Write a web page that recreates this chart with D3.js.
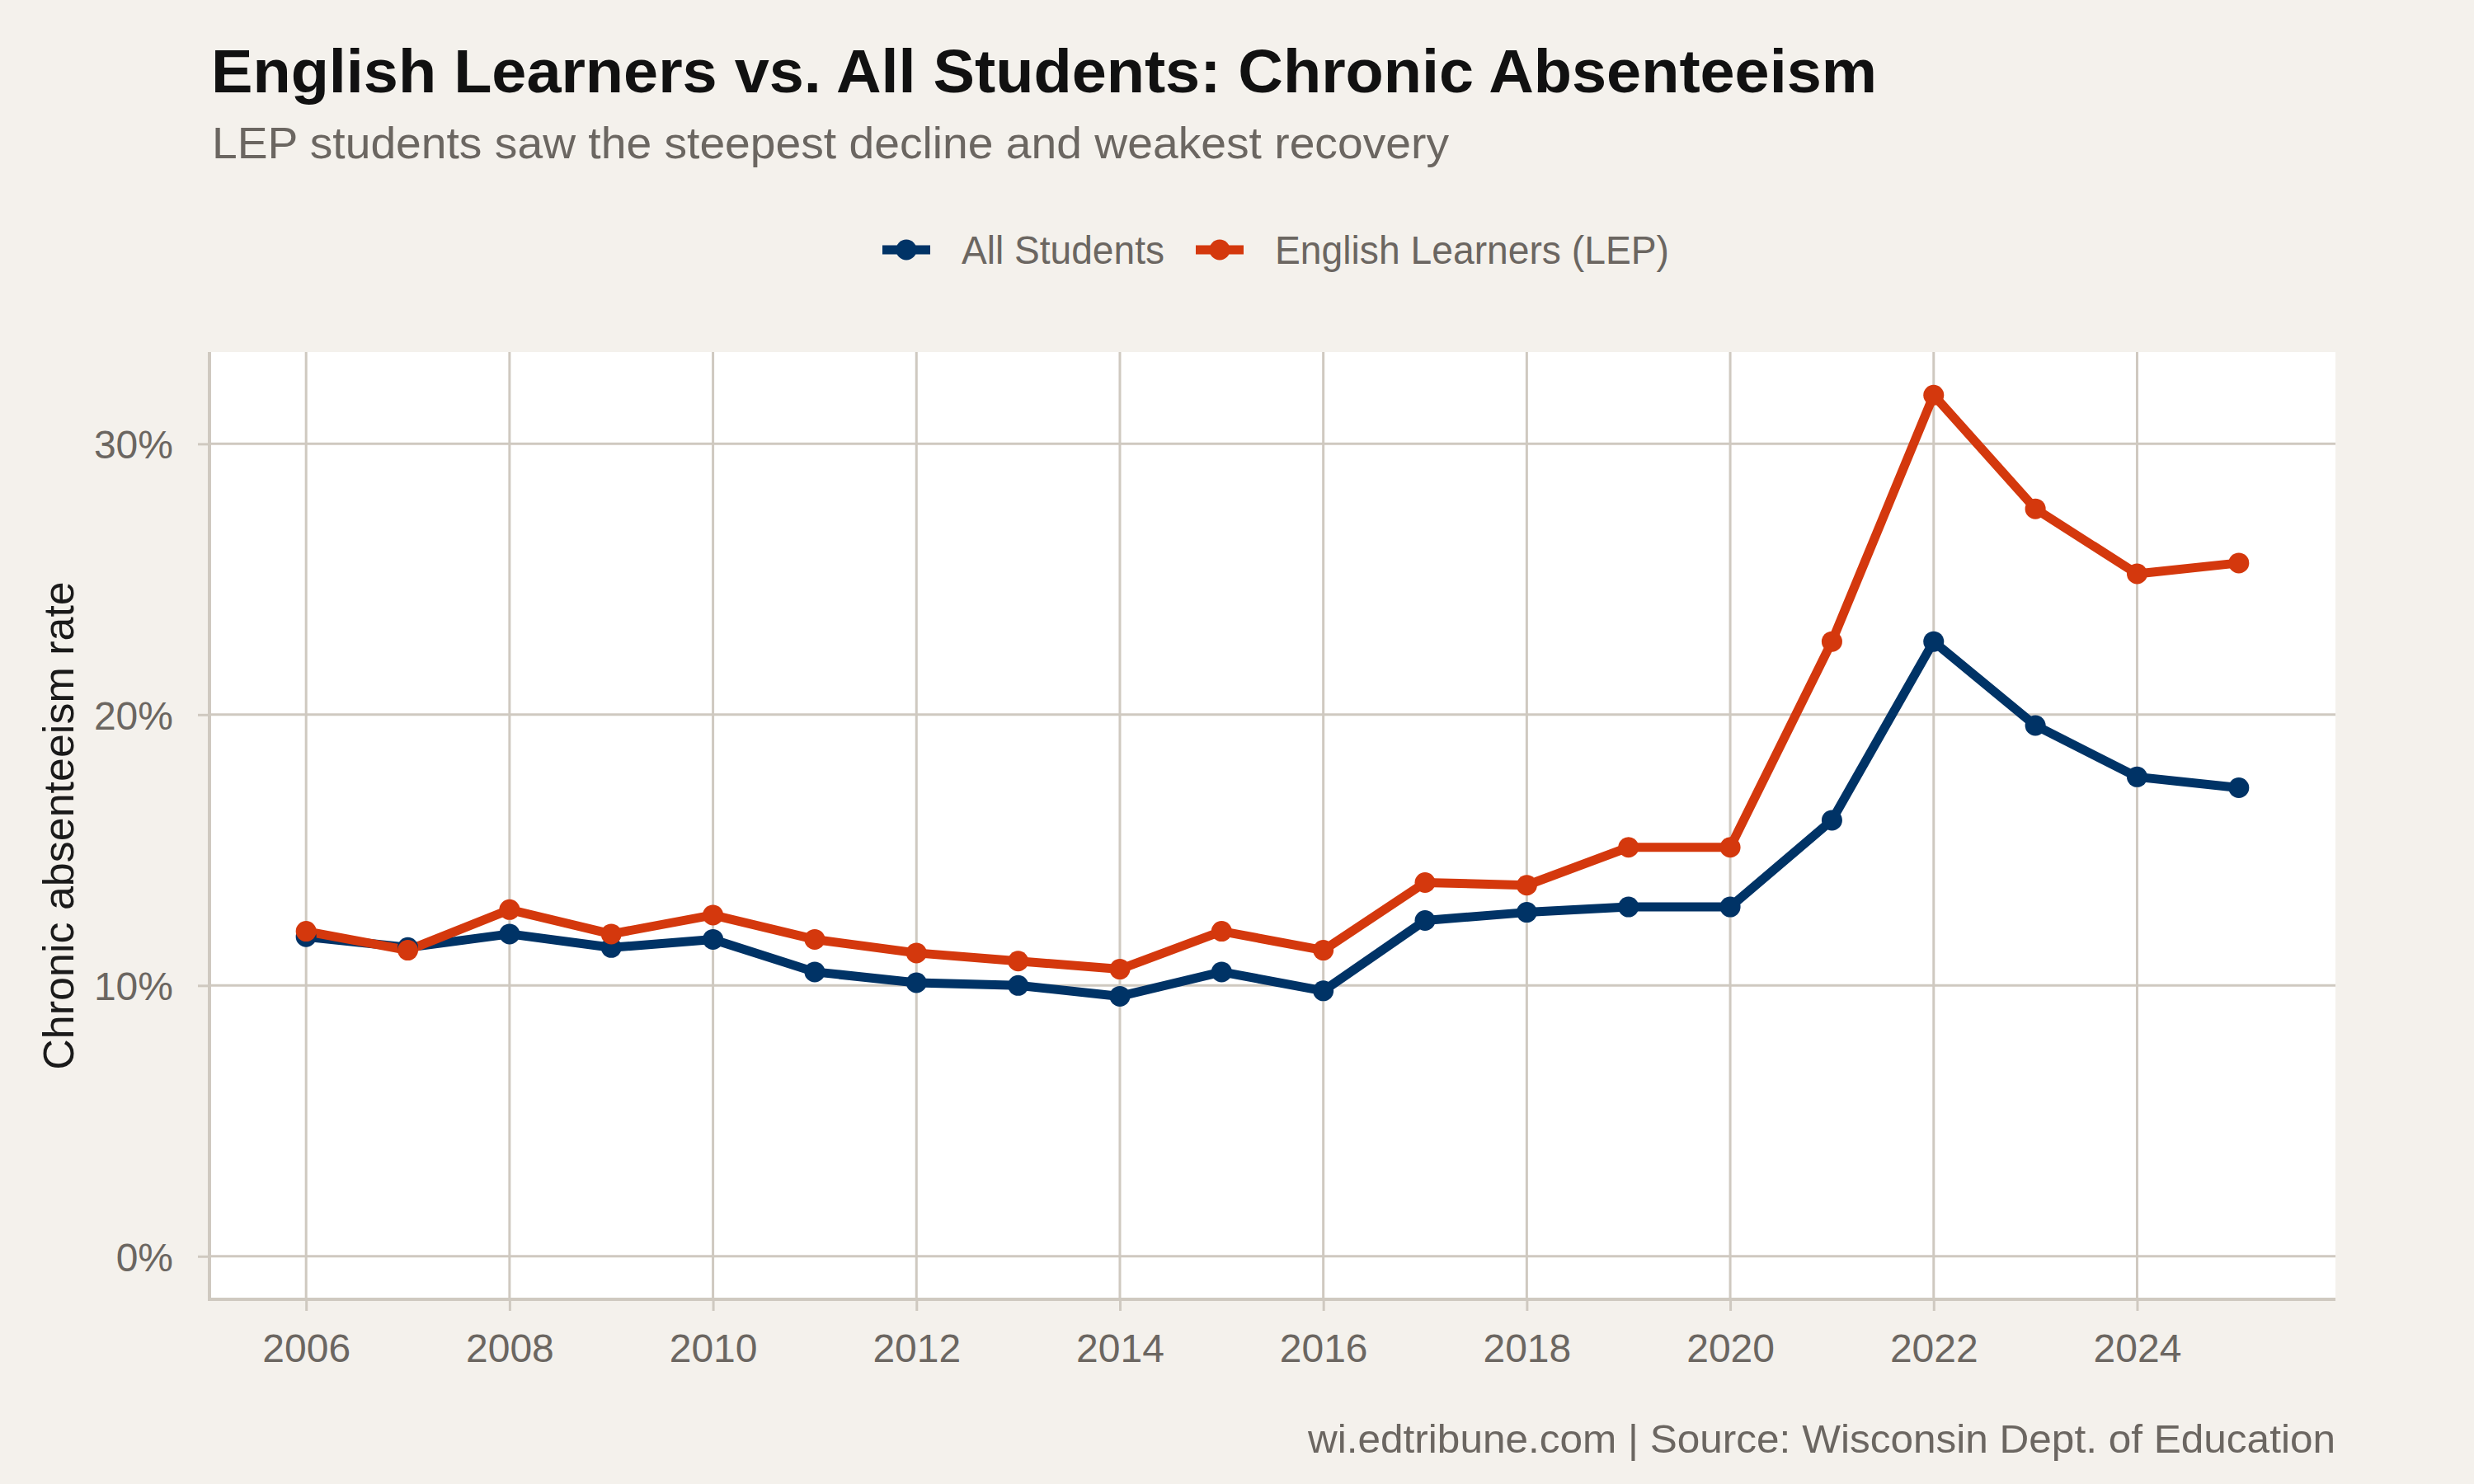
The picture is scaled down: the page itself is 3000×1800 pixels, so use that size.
<!DOCTYPE html>
<html>
<head>
<meta charset="utf-8">
<script src="https://cdn.jsdelivr.net/npm/d3@7"></script>
<style>
  html, body { margin: 0; padding: 0; background: #f4f1ec; }
  svg { display: block; }
  text { font-family: "Liberation Sans", Arial, Helvetica, sans-serif; }
</style>
</head>
<body>
<svg id="chart" width="3000" height="1800"></svg>
<script>
// ---- Data ----
const years = [2006, 2007, 2008, 2009, 2010, 2011, 2012, 2013, 2014, 2015,
               2016, 2017, 2018, 2019, 2020, 2021, 2022, 2023, 2024, 2025];
const allStudents = [11.8, 11.4, 11.9, 11.4, 11.7, 10.5, 10.1, 10.0, 9.6, 10.5,
                     9.8, 12.4, 12.7, 12.9, 12.9, 16.1, 22.7, 19.6, 17.7, 17.3];
const englishLearners = [12.0, 11.3, 12.8, 11.9, 12.6, 11.7, 11.2, 10.9, 10.6, 12.0,
                         11.3, 13.8, 13.7, 15.1, 15.1, 22.7, 31.8, 27.6, 25.2, 25.6];
const seriesNames = ["All Students", "English Learners (LEP)"];
const xTicks = [2006, 2008, 2010, 2012, 2014, 2016, 2018, 2020, 2022, 2024];
const yTicks = [0, 10, 20, 30];

const title = "English Learners vs. All Students: Chronic Absenteeism";
const subtitle = "LEP students saw the steepest decline and weakest recovery";
const yTitle = "Chronic absenteeism rate";
const caption = "wi.edtribune.com | Source: Wisconsin Dept. of Education";

// ---- Style ----
const colors = ["#003366", "#d4380d"];
const bg = "#f4f1ec";
const gridColor = "#cfc9c0";
const grayText = "#6b6661";

const panel = { left: 254, right: 2832, top: 427, bottom: 1576 };

const svg = d3.select("#chart");
svg.append("rect").attr("width", 3000).attr("height", 1800).attr("fill", bg);

// scales (ggplot-style 5% expansion)
const xMin = d3.min(years), xMax = d3.max(years);
const xPad = (xMax - xMin) * 0.05;
const x = d3.scaleLinear().domain([xMin - xPad, xMax + xPad]).range([panel.left, panel.right]);
const yTop = Math.max(d3.max(allStudents), d3.max(englishLearners));
const yPad = yTop * 0.05;
const y = d3.scaleLinear().domain([0 - yPad, yTop + yPad]).range([panel.bottom, panel.top]);

// panel
svg.append("rect")
  .attr("x", panel.left).attr("y", panel.top)
  .attr("width", panel.right - panel.left).attr("height", panel.bottom - panel.top)
  .attr("fill", "#ffffff");

// gridlines
const g = svg.append("g");
g.selectAll("line.vg").data(xTicks).join("line")
  .attr("x1", d => x(d)).attr("x2", d => x(d))
  .attr("y1", panel.top).attr("y2", panel.bottom)
  .attr("stroke", gridColor).attr("stroke-width", 3);
g.selectAll("line.hg").data(yTicks).join("line")
  .attr("x1", panel.left).attr("x2", panel.right)
  .attr("y1", d => y(d)).attr("y2", d => y(d))
  .attr("stroke", gridColor).attr("stroke-width", 3);

// axes
const xAxis = d3.axisBottom(x).tickValues(xTicks).tickFormat(d3.format("d")).tickSize(14).tickPadding(0);
const yAxis = d3.axisLeft(y).tickValues(yTicks).tickFormat(d => d + "%").tickSize(14).tickPadding(0);

const gx = svg.append("g").attr("transform", `translate(0,${panel.bottom})`).call(xAxis);
gx.select(".domain").remove();
gx.selectAll(".tick line").attr("stroke", gridColor).attr("stroke-width", 3);
gx.selectAll(".tick text")
  .attr("y", 76).attr("dy", null)
  .attr("fill", grayText).attr("font-size", 48)
  .attr("font-family", "Liberation Sans, Arial, sans-serif");

const gy = svg.append("g").attr("transform", `translate(${panel.left},0)`).call(yAxis);
gy.select(".domain").remove();
gy.selectAll(".tick line").attr("stroke", gridColor).attr("stroke-width", 3);
gy.selectAll(".tick text")
  .attr("x", -44).attr("dy", "0.36em")
  .attr("fill", grayText).attr("font-size", 48)
  .attr("font-family", "Liberation Sans, Arial, sans-serif");

// axis lines
svg.append("line")
  .attr("x1", panel.left).attr("x2", panel.left)
  .attr("y1", panel.top).attr("y2", panel.bottom + 2)
  .attr("stroke", gridColor).attr("stroke-width", 4);
svg.append("line")
  .attr("x1", panel.left).attr("x2", panel.right)
  .attr("y1", panel.bottom).attr("y2", panel.bottom)
  .attr("stroke", gridColor).attr("stroke-width", 4);

// series
const series = [allStudents, englishLearners].map((vals, i) => ({
  name: seriesNames[i], color: colors[i],
  values: years.map((yr, j) => ({ year: yr, value: vals[j] }))
}));

const line = d3.line().x(d => x(d.year)).y(d => y(d.value));
svg.append("g").selectAll("path").data(series).join("path")
  .attr("d", d => line(d.values))
  .attr("fill", "none")
  .attr("stroke", d => d.color)
  .attr("stroke-width", 11)
  .attr("stroke-linejoin", "round")
  .attr("stroke-linecap", "butt");

series.forEach(s => {
  svg.append("g").selectAll("circle").data(s.values).join("circle")
    .attr("cx", d => x(d.year)).attr("cy", d => y(d.value))
    .attr("r", 12.5).attr("fill", s.color);
});

// legend
const legendItems = [
  { name: seriesNames[0], color: colors[0], x0: 1070, tx: 1166, tw: 246 },
  { name: seriesNames[1], color: colors[1], x0: 1450, tx: 1546, tw: 478 }
];
const lg = svg.append("g");
legendItems.forEach(it => {
  lg.append("line")
    .attr("x1", it.x0).attr("x2", it.x0 + 58)
    .attr("y1", 303).attr("y2", 303)
    .attr("stroke", it.color).attr("stroke-width", 11);
  lg.append("circle").attr("cx", it.x0 + 29).attr("cy", 303).attr("r", 12.5).attr("fill", it.color);
  lg.append("text")
    .attr("x", it.tx).attr("y", 320)
    .attr("font-size", 48).attr("fill", grayText)
    .attr("textLength", it.tw).attr("lengthAdjust", "spacingAndGlyphs")
    .text(it.name);
});

// titles
svg.append("text")
  .attr("x", 256).attr("y", 112)
  .attr("font-size", 75).attr("font-weight", "bold").attr("fill", "#111111")
  .attr("textLength", 2020).attr("lengthAdjust", "spacingAndGlyphs")
  .text(title);
svg.append("text")
  .attr("x", 257).attr("y", 192)
  .attr("font-size", 54).attr("fill", grayText)
  .attr("textLength", 1500).attr("lengthAdjust", "spacingAndGlyphs")
  .text(subtitle);

// y-axis title
svg.append("text")
  .attr("transform", `translate(89,${(panel.top + panel.bottom) / 2}) rotate(-90)`)
  .attr("text-anchor", "middle")
  .attr("font-size", 52).attr("fill", "#1a1a1a")
  .text(yTitle);

// caption
svg.append("text")
  .attr("x", panel.right).attr("y", 1762)
  .attr("text-anchor", "end")
  .attr("font-size", 48).attr("fill", grayText)
  .attr("textLength", 1246).attr("lengthAdjust", "spacingAndGlyphs")
  .text(caption);
</script>
</body>
</html>
